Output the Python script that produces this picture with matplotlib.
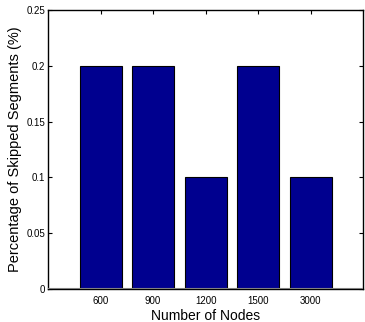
import matplotlib
matplotlib.use("Agg")
import matplotlib.pyplot as plt

categories = ["600", "900", "1200", "1500", "3000"]
values = [0.2, 0.2, 0.1, 0.2, 0.1]
yticks = [0, 0.05, 0.1, 0.15, 0.2, 0.25]
yticklabels = ["0", "0.05", "0.1", "0.15", "0.2", "0.25"]

plt.rcParams['font.family'] = ['Liberation Sans', 'DejaVu Sans']

fig = plt.figure(figsize=(3.65, 3.22), dpi=100)
ax = fig.add_axes([0.1315, 0.103, 0.864, 0.866])
x = list(range(1, len(categories) + 1))
ax.bar(x, values, width=0.8, color="#00008F", edgecolor="black", linewidth=0.8, zorder=2)
ax.axhline(0, color="#808080", linewidth=1.5, zorder=3)
ax.set_xlim(0, 6)
ax.set_ylim(0, 0.25)
ax.set_xticks(x)
ax.set_xticklabels(categories, fontsize=7)
ax.set_yticks(yticks)
ax.set_yticklabels(yticklabels, fontsize=7)
ax.tick_params(axis="y", pad=2)
ax.tick_params(axis="x", pad=5)
ax.tick_params(direction="in", length=3, width=0.8, top=True, right=True)
for s in ax.spines.values():
    s.set_linewidth(1.0)
ax.set_xlabel("Number of Nodes", fontsize=10, labelpad=2)
ax.set_ylabel("Percentage of Skipped Segments (%)", fontsize=10.5, labelpad=3)
fig.savefig("out.png", dpi=100)
